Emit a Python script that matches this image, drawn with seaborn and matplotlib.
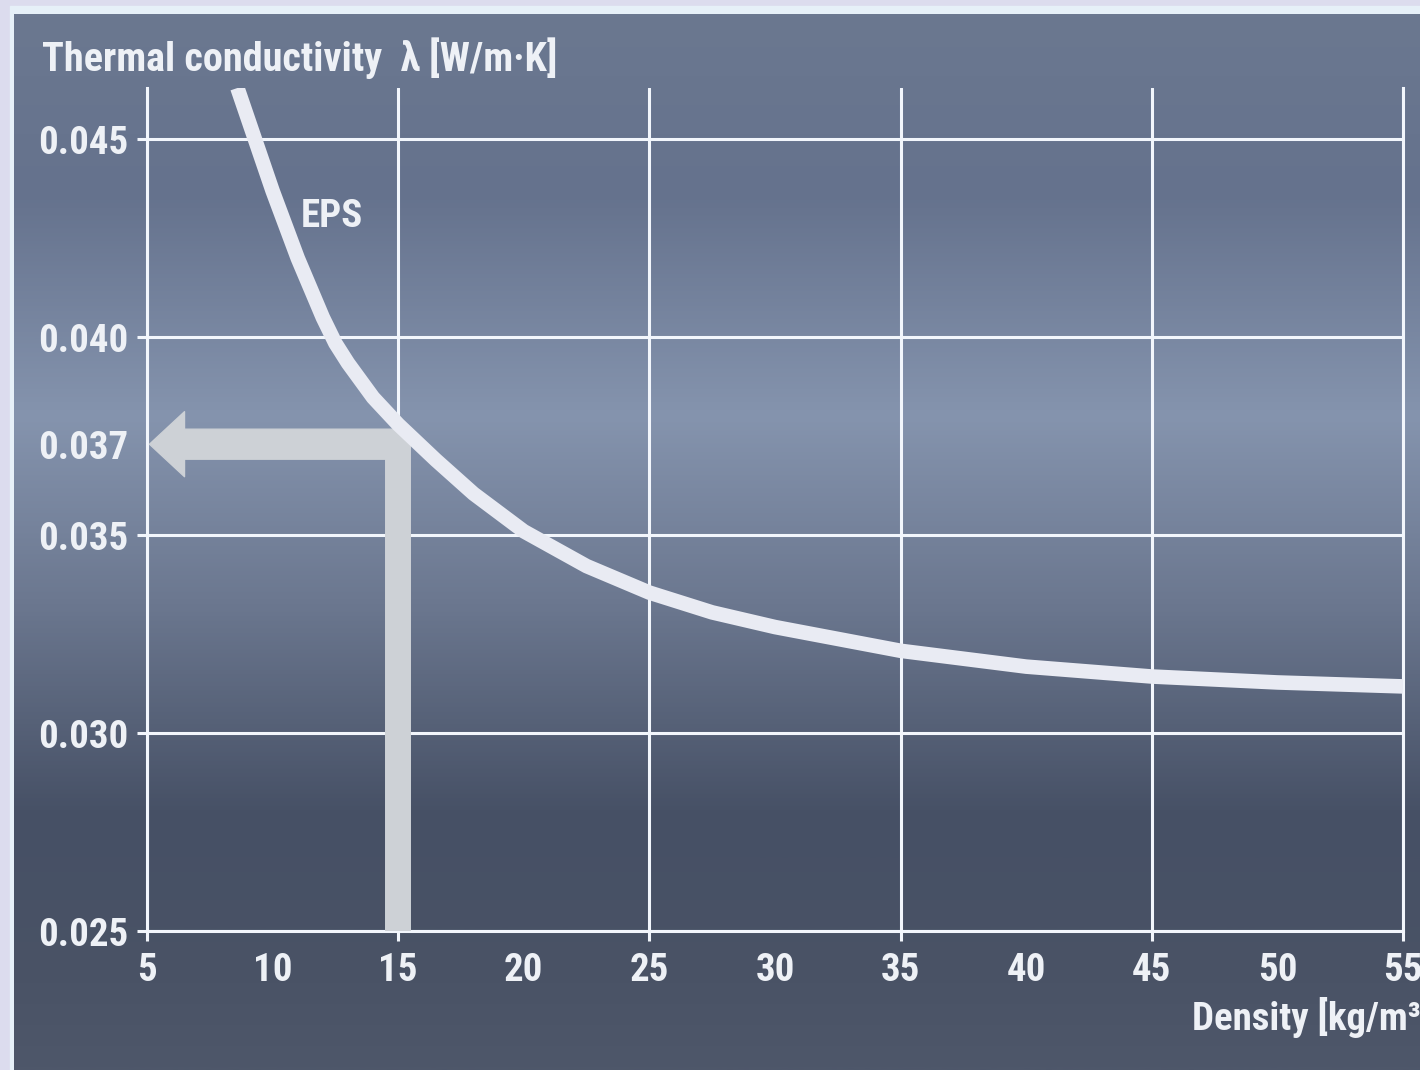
#!/usr/bin/env python3
"""
EPS thermal conductivity vs. density chart
"""

import numpy as np
import pandas as pd
import matplotlib.pyplot as plt
from matplotlib import font_manager
from matplotlib.colors import LinearSegmentedColormap
from matplotlib.patches import Rectangle
import seaborn as sns

# Data
density = [8.6, 10.0, 11.0, 12.0, 12.5, 13.0, 14.0, 15.0, 16.5, 18.0, 20.0,
           22.5, 25.0, 27.5, 30.0, 35.0, 40.0, 45.0, 50.0, 55.0]
conductivity = [0.0463, 0.0437, 0.0420, 0.0405, 0.03985, 0.03935, 0.03848,
                0.0378, 0.0369, 0.03605, 0.0351, 0.03422, 0.03355, 0.03305,
                0.03268, 0.03208, 0.03168, 0.03143, 0.03128, 0.03118]
series_label = 'EPS'
label_pos = (12.36, 0.04306)

x_grid_ticks = [5, 15, 25, 35, 45, 55]
x_label_ticks = [10, 20, 30, 40, 50]
y_grid_ticks = [0.025, 0.030, 0.035, 0.040, 0.045]
y_marked_ticks = [0.0373]
y_marked_labels = ['0.037']

arrow_density = 15.0
arrow_lambda = 0.0373
arrow_tip_density = 5.1

df = pd.DataFrame({'density': density, 'conductivity': conductivity})

# Style
sns.set_theme(style='white')
fonts = font_manager.fontManager.ttflist
names = {f.name for f in fonts}
stretch = 'normal'
if 'Liberation Sans Narrow' in names:
    main_font, fsize = 'Liberation Sans Narrow', 28
elif 'Roboto Condensed' in names:
    main_font, fsize = 'Roboto Condensed', 28
elif any(f.name == 'DejaVu Sans' and f.stretch == 'condensed' for f in fonts):
    main_font, fsize, stretch = 'DejaVu Sans', 25, 'condensed'
else:
    main_font, fsize = 'Liberation Sans', 25
plt.rcParams['font.family'] = [main_font, 'DejaVu Sans']
plt.rcParams['font.weight'] = 'bold'
plt.rcParams['font.stretch'] = stretch

W, H = 1420, 1070
fig = plt.figure(figsize=(W / 100, H / 100), dpi=100, facecolor='#dcdcee')

# light frame and gradient panel
fig.add_artist(Rectangle((10 / W, 0), 1, 1 - 6 / H, transform=fig.transFigure,
                         color='#e6f0f8', zorder=0))
bg = fig.add_axes([14 / W, 0, 1 - 14 / W, 1 - 14 / H], zorder=0)
panel = LinearSegmentedColormap.from_list('panel', [
    (0.00, '#6b7890'), (0.17, '#65728d'), (0.38, '#8594ae'), (0.56, '#6b778f'),
    (0.76, '#465065'), (0.92, '#4a5366'), (1.00, '#4e576a')])
grad = np.linspace(0, 1, 512).reshape(-1, 1)
bg.imshow(grad, aspect='auto', cmap=panel, extent=[0, 1, 0, 1], origin='upper')
bg.axis('off')

# Main axes
ax = fig.add_axes([147 / W, 1 - 931 / H, (1403 - 147) / W, (931 - 88) / H], zorder=2)
ax.patch.set_alpha(0)

line_col = '#f2f6fc'
text_col = '#eef1f6'
arrow_col = '#cdd1d6'

# Arrow: vertical from the x axis, then pointing left to the y axis
ax.plot([arrow_density, arrow_density], [y_grid_ticks[0], arrow_lambda],
        color=arrow_col, lw=18.7, solid_capstyle='projecting', zorder=3)
ax.annotate('', xy=(arrow_tip_density, arrow_lambda), xytext=(arrow_density, arrow_lambda),
            arrowprops=dict(arrowstyle='simple,head_length=1.05,head_width=1.95,tail_width=0.9',
                            mutation_scale=24, color=arrow_col, shrinkA=0, shrinkB=0),
            zorder=3)

# Curve
sns.lineplot(data=df, x='density', y='conductivity', ax=ax, color='#e9ebf3',
             lw=10.5, solid_joinstyle='round', solid_capstyle='butt', zorder=4)
ax.text(label_pos[0], label_pos[1], series_label, color=text_col, fontsize=fsize,
        fontweight='bold', ha='center', va='center', zorder=5)

ax.set_xlim(5, 55)
ax.set_ylim(0.025, 0.0463)

ax.set_xticks(x_grid_ticks)
ax.set_xticklabels([str(v) for v in x_grid_ticks])
ax.set_xticks(x_label_ticks, minor=True)
ax.set_xticklabels([str(v) for v in x_label_ticks], minor=True)
ax.set_yticks(y_grid_ticks)
ax.set_yticklabels([f'{v:.3f}' for v in y_grid_ticks])
ax.set_yticks(y_marked_ticks, minor=True)
ax.set_yticklabels(y_marked_labels, minor=True)

ax.grid(which='major', color=line_col, lw=2.2)
ax.grid(which='minor', visible=False)
ax.set_axisbelow(True)
ax.tick_params(which='both', direction='out', color=line_col, labelcolor=text_col,
               labelsize=fsize, width=2.2)
ax.tick_params(axis='x', which='major', length=7.2, pad=8, bottom=True)
ax.tick_params(axis='y', which='major', length=7.2, pad=6, left=True)
ax.tick_params(axis='x', which='minor', length=0, pad=15.2, bottom=True)
ax.tick_params(axis='y', which='minor', length=0, pad=13.2, left=True)
for lab in ax.get_xticklabels(which='both') + ax.get_yticklabels(which='both'):
    lab.set_fontweight('bold')
    lab.set_fontstretch(stretch)

for side in ['left', 'bottom', 'right']:
    ax.spines[side].set_color(line_col)
    ax.spines[side].set_linewidth(2.2)
ax.spines['top'].set_visible(False)
ax.set_xlabel('')
ax.set_ylabel('')

fig.text(42 / W, 1 - 58 / H, 'Thermal conductivity  λ [W/m·K]', color=text_col,
         fontsize=fsize + 1, fontweight='bold', ha='left', va='center')
fig.text(1192 / W, 1 - 1018 / H, 'Density [kg/m³]', color=text_col,
         fontsize=fsize, fontweight='bold', ha='left', va='center')

fig.savefig('out.png', dpi=100)
plt.close(fig)
